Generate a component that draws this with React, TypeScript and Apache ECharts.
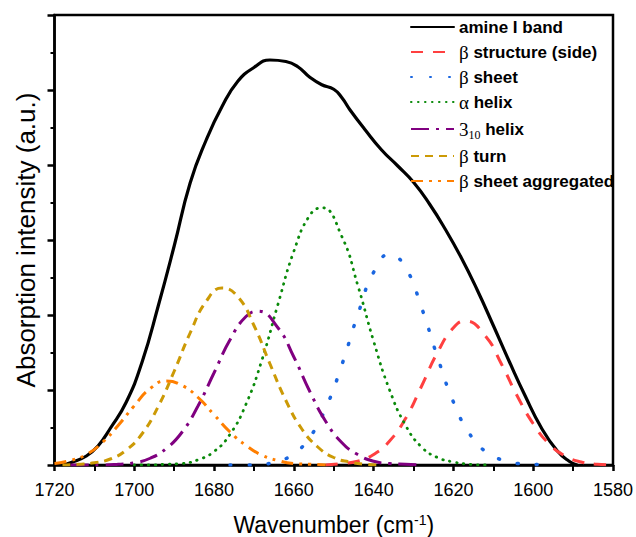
import React, { useEffect, useRef } from 'react';
import * as echarts from 'echarts';

// Wavenumber (cm-1), absorption intensity (a.u.) pairs
const amineBand: [number, number][] = [
  [1718, 0], [1716, 0.03], [1712, 0.12], [1709, 0.26], [1706, 0.49], [1702, 0.84],
  [1698, 1.38], [1694, 2.12], [1690, 2.92], [1686, 3.76], [1682, 4.33], [1678, 4.78],
  [1674, 5.12], [1670, 5.30], [1666, 5.40], [1662, 5.38], [1659, 5.31], [1656, 5.17],
  [1653, 5.07], [1650, 5.01], [1648, 4.90], [1646, 4.74], [1642, 4.46], [1638, 4.20],
  [1634, 3.99], [1630, 3.77], [1626, 3.48], [1622, 3.14], [1618, 2.76], [1614, 2.33],
  [1610, 1.86], [1606, 1.38], [1602, 0.92], [1598, 0.50], [1594, 0.19], [1591, 0.05], [1589, 0],
];
const betaSide: [number, number][] = [
  [1652, 0], [1648, 0.02], [1644, 0.05], [1640, 0.14], [1636, 0.32], [1632, 0.62], [1628, 1.05],
  [1624, 1.50], [1620, 1.83], [1617, 1.92], [1612, 1.72], [1608, 1.35], [1604, 0.92],
  [1600, 0.55], [1596, 0.28], [1592, 0.12], [1588, 0.04], [1584, 0.01], [1580, 0],
];
const betaSheet: [number, number][] = [
  [1676, 0], [1672, 0.0], [1668, 0.01], [1664, 0.05], [1660, 0.15], [1656, 0.37], [1652, 0.76],
  [1648, 1.33], [1644, 2.0], [1640, 2.57], [1636, 2.81], [1632, 2.63], [1628, 2.1],
  [1624, 1.44], [1620, 0.84], [1616, 0.42], [1612, 0.18], [1608, 0.07], [1604, 0.02],
  [1600, 0.01], [1596, 0],
];
const alphaHelix: [number, number][] = [
  [1700, 0], [1696, 0.0], [1692, 0.01], [1688, 0.02], [1684, 0.07], [1680, 0.18], [1676, 0.41],
  [1672, 0.81], [1668, 1.40], [1664, 2.14], [1660, 2.85], [1656, 3.33], [1653, 3.43],
  [1648, 3.05], [1644, 2.40], [1640, 1.65], [1636, 1.00], [1632, 0.53], [1628, 0.24],
  [1624, 0.10], [1620, 0.04], [1616, 0.01], [1612, 0],
];
const helix310: [number, number][] = [
  [1716, 0], [1712, 0.0], [1708, 0.0], [1704, 0.01], [1700, 0.03], [1696, 0.09], [1692, 0.22],
  [1688, 0.44], [1684, 0.79], [1680, 1.23], [1676, 1.67], [1672, 1.98], [1669, 2.05],
  [1664, 1.83], [1660, 1.44], [1656, 0.98], [1652, 0.58], [1648, 0.30], [1644, 0.14],
  [1640, 0.05], [1636, 0.02], [1632, 0.01], [1628, 0],
];
const betaTurn: [number, number][] = [
  [1718, 0], [1714, 0.01], [1710, 0.03], [1706, 0.08], [1702, 0.20], [1698, 0.42], [1694, 0.78],
  [1690, 1.25], [1686, 1.76], [1682, 2.18], [1678, 2.36], [1674, 2.24], [1670, 1.86],
  [1666, 1.35], [1662, 0.86], [1658, 0.48], [1654, 0.24], [1650, 0.10], [1646, 0.04],
  [1642, 0.01], [1638, 0],
];
const betaAggregated: [number, number][] = [
  [1720, 0.02], [1716, 0.06], [1712, 0.14], [1708, 0.30], [1704, 0.53], [1700, 0.79],
  [1696, 1.02], [1692, 1.12], [1688, 1.06], [1684, 0.90], [1680, 0.67], [1676, 0.44],
  [1672, 0.26], [1668, 0.13], [1664, 0.06], [1660, 0.02], [1656, 0.01], [1652, 0],
];

const seriesNames = [
  'amine I band',
  'β structure (side)',
  'β sheet',
  'α helix',
  '3₁₀ helix',
  'β turn',
  'β sheet aggregated',
];
const legendLabels: Record<string, string> = {
  'amine I band': 'amine I band',
  'β structure (side)': '{g|β} structure (side)',
  'β sheet': '{g|β} sheet',
  'α helix': '{g|α} helix',
  '3₁₀ helix': '{n|3}{s|10} helix',
  'β turn': '{g|β} turn',
  'β sheet aggregated': '{g|β} sheet aggregated',
};

const SANS = '"Liberation Sans", Arial, sans-serif';
const SERIF = '"Liberation Serif", "Times New Roman", serif';

function mk(name: string, data: [number, number][], color: string, width: number, dash: any, cap: string) {
  return {
    name,
    type: 'line',
    data,
    smooth: true,
    symbol: 'none',
    showSymbol: false,
    lineStyle: { color, width, type: dash, cap },
    itemStyle: { color },
  };
}

export default function App() {
  const ref = useRef<HTMLDivElement>(null);
  useEffect(() => {
    document.body.style.margin = '0';
    const chart = echarts.init(ref.current!, null, { renderer: 'svg' });
    chart.setOption({
      animation: false,
      backgroundColor: '#fff',
      grid: {
        left: 54.5, right: 23, top: 15, bottom: 72,
        outerBoundsMode: 'none',
        containLabel: false,
        show: true, borderColor: '#000', borderWidth: 2.5, backgroundColor: 'transparent',
      },
      legend: {
        orient: 'vertical',
        left: 410,
        top: 17,
        padding: 0,
        itemWidth: 43,
        itemHeight: 14,
        itemGap: 5,
        selectedMode: false,
        data: seriesNames,
        itemStyle: { opacity: 0 },
        formatter: (n: string) => legendLabels[n] ?? n,
        textStyle: {
          fontFamily: SANS, fontWeight: 'bold', fontSize: 17, color: '#000', lineHeight: 20,
          rich: {
            g: { fontFamily: SERIF, fontWeight: 'normal', fontSize: 19, lineHeight: 20, color: '#000' },
            n: { fontFamily: SERIF, fontWeight: 'normal', fontSize: 19, lineHeight: 24, color: '#000' },
            s: { fontFamily: SERIF, fontWeight: 'normal', fontSize: 12, lineHeight: 12, verticalAlign: 'bottom', color: '#000' },
          },
        },
      },
      xAxis: {
        type: 'value',
        inverse: true,
        min: 1580,
        max: 1720,
        interval: 20,
        axisLine: { onZero: false, lineStyle: { color: '#000', width: 2.5 } },
        axisTick: { length: 6, lineStyle: { color: '#000', width: 2.5 } },
        minorTick: { show: true, splitNumber: 2, length: 6, lineStyle: { color: '#000', width: 2 } },
        splitLine: { show: false },
        minorSplitLine: { show: false },
        axisLabel: {
          fontSize: 18, fontFamily: SANS, color: '#000', margin: 16, lineHeight: 18,
          formatter: (v: number) => String(v),
        },
        name: 'Wavenumber (cm{sup|-1})',
        nameLocation: 'middle',
        nameGap: 48,
        nameTextStyle: {
          fontSize: 23, fontFamily: SANS, color: '#000', lineHeight: 24,
          rich: { sup: { fontSize: 14, fontFamily: SANS, lineHeight: 14, verticalAlign: 'top', color: '#000' } },
        },
      },
      yAxis: {
        type: 'value',
        min: 0,
        max: 6,
        interval: 1,
        axisLine: { show: true, onZero: false, lineStyle: { color: '#000', width: 2.5 } },
        axisTick: { show: true, length: 7, lineStyle: { color: '#000', width: 2.5 } },
        minorTick: { show: true, splitNumber: 2, length: 4, lineStyle: { color: '#000', width: 2 } },
        splitLine: { show: false },
        axisLabel: { show: false },
        name: 'Absorption intensity (a.u.)',
        nameLocation: 'middle',
        nameGap: 16,
        nameTextStyle: { fontSize: 26, fontFamily: SANS, color: '#000', lineHeight: 26 },
      },
      series: [
        mk('amine I band', amineBand, '#000000', 3.2, 'solid', 'round'),
        mk('β structure (side)', betaSide, '#ff4040', 3, [12, 10], 'butt'),
        mk('β sheet', betaSheet, '#1a66e0', 3.5, [1, 18], 'round'),
        mk('α helix', alphaHelix, '#0a8a0a', 2.8, [0.5, 6.5], 'round'),
        mk('3₁₀ helix', helix310, '#800080', 3, [18, 7, 3, 7], 'butt'),
        mk('β turn', betaTurn, '#cc9a06', 3, [8, 6], 'butt'),
        mk('β sheet aggregated', betaAggregated, '#ff7f00', 3, [12, 6, 3, 6, 3, 6], 'butt'),
      ],
    });
    return () => chart.dispose();
  }, []);
  return <div ref={ref} style={{ width: 636, height: 537 }} />;
}
